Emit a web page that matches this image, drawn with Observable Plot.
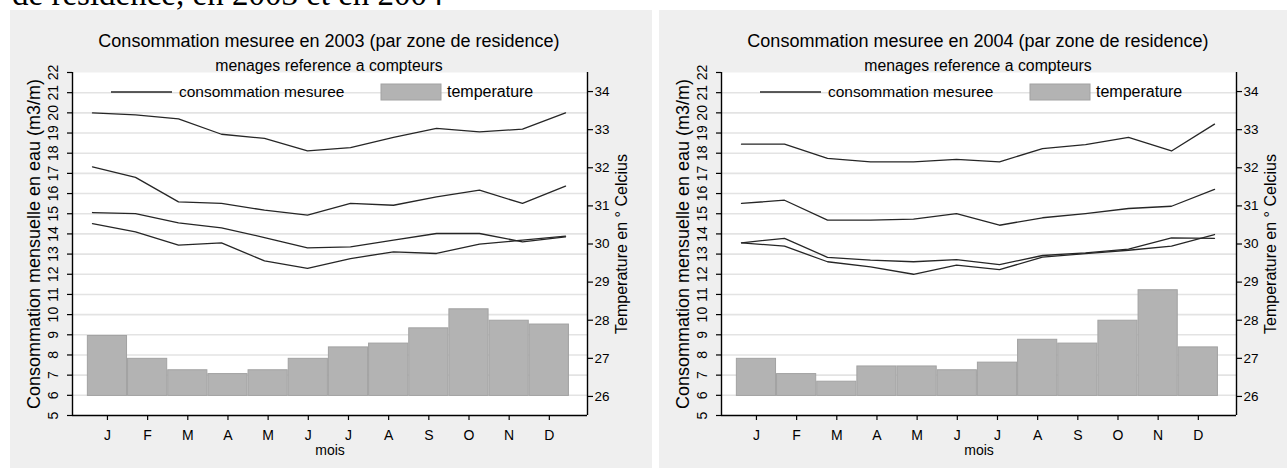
<!DOCTYPE html>
<html>
<head>
<meta charset="utf-8">
<script src="https://cdn.jsdelivr.net/npm/d3@7"></script>
<script src="https://cdn.jsdelivr.net/npm/@observablehq/plot@0.6"></script>
<style>
  html, body { margin: 0; padding: 0; }
  body { width: 1287px; height: 468px; overflow: hidden; background: #fff; position: relative;
         font-family: "Liberation Sans", Arial, sans-serif; }
  #doc { position: absolute; left: 12px; top: -22px; font-family: "Liberation Serif", "Times New Roman", serif;
         font-size: 33px; line-height: 33px; white-space: nowrap; color: #000; }
  .panel { position: absolute; top: 10px; width: 642px; height: 458px; background: #efefef; overflow: hidden; }
  .panel > svg { position: absolute; left: 0; top: 0; }
</style>
</head>
<body>
<div id="doc">de residence, en 2003 et en 2004</div>
<div class="panel" id="p2003" style="left:10px"></div>
<div class="panel" id="p2004" style="left:659px"></div>
<script>
// ---- data ----
const months = ["J","F","M","A","M","J","J","A","S","O","N","D"];
const monthNum = [1,2,3,4,5,6,7,8,9,10,11,12];
const consTicks = [5,6,7,8,9,10,11,12,13,14,15,16,17,18,19,20,21,22];
const gridTicks = [6,7,8,9,10,11,12,13,14,15,16,17,18,19,20,21];
const tempTicks = [26,27,28,29,30,31,32,33,34];

const temp2003 = [27.6,27.0,26.7,26.6,26.7,27.0,27.3,27.4,27.8,28.3,28.0,27.9];
const temp2004 = [27.0,26.6,26.4,26.8,26.8,26.7,26.9,27.5,27.4,28.0,28.8,27.3];

const conso2003a = [20.0,19.9,19.7,18.94,18.73,18.12,18.28,18.78,19.23,19.06,19.19,20.0];
const conso2003b = [17.32,16.80,15.59,15.51,15.18,14.93,15.51,15.42,15.84,16.17,15.51,16.37];
const conso2003c = [15.06,15.01,14.55,14.30,13.82,13.31,13.36,13.69,14.02,14.02,13.61,13.85];
const conso2003d = [14.51,14.10,13.44,13.56,12.66,12.29,12.78,13.11,13.03,13.49,13.69,13.89];

const conso2004a = [18.45,18.45,17.74,17.57,17.57,17.69,17.57,18.23,18.43,18.78,18.11,19.44];
const conso2004b = [15.51,15.67,14.68,14.68,14.73,15.01,14.43,14.80,15.01,15.26,15.37,16.21];
const conso2004c = [13.56,13.78,12.84,12.70,12.62,12.73,12.48,12.93,13.06,13.25,13.80,13.78];
const conso2004d = [13.56,13.39,12.62,12.37,12.00,12.45,12.23,12.85,13.02,13.19,13.39,13.97];

const title2003 = "Consommation mesuree en 2003 (par zone de residence)";
const title2004 = "Consommation mesuree en 2004 (par zone de residence)";
const subtitle = "menages reference a compteurs";
const legendLine = "consommation mesuree";
const legendBar = "temperature";
const yTitle = "Consommation mensuelle en eau (m3/m)";
const y2Title = "Temperature en \u00b0 Celcius";
const xTitle = "mois";

// ---- layout ----
const W = 642, H = 458;
const mTop = 62, mBottom = 53, mLeft = 62, mRight = 65;
const lineMarginLeft = 82, lineMarginRight = 87;
const xDomain = [0.13, 12.95];
const yDomain = [5, 22];
const tDomain = [25.5, 34.5];
const font = "'Liberation Sans', Arial, sans-serif";
const narrow = "'Liberation Sans Narrow', 'Liberation Sans', Arial, sans-serif";
const baseStyle = {background: "transparent", fontFamily: font, color: "#000", overflow: "visible"};

function basePlot() {
  return Plot.plot({
    width: W, height: H, marginTop: mTop, marginBottom: mBottom, marginLeft: mLeft, marginRight: mRight,
    style: baseStyle,
    x: {domain: xDomain},
    y: {domain: yDomain},
    marks: [
      Plot.frame({fill: "#fff", stroke: null}),
      Plot.gridY(gridTicks, {stroke: "#e3e3e3", strokeOpacity: 1, strokeWidth: 1.6}),
      Plot.axisX(monthNum, {anchor: "bottom", tickSize: 5, tickPadding: 10, tickFormat: i => months[i - 1],
        fontSize: 14, fontFamily: narrow, label: null, strokeWidth: 1.2}),
      Plot.axisY(consTicks, {anchor: "left", tickSize: 5, tickFormat: () => "", label: null, strokeWidth: 1.2}),
      Plot.text(consTicks, {y: d => d, text: d => String(d), frameAnchor: "left", dx: -15, rotate: -90,
        textAnchor: "middle", lineAnchor: "bottom", fontSize: 14, fontFamily: narrow}),
      Plot.text([xTitle], {text: d => d, frameAnchor: "bottom", dy: 39, lineAnchor: "bottom",
        fontSize: 14, fontFamily: narrow}),
      Plot.text([yTitle], {text: d => d, frameAnchor: "left", dx: -33, rotate: -90,
        textAnchor: "middle", lineAnchor: "bottom", fontSize: 18}),
      Plot.ruleX([xDomain[0]], {stroke: "#000", strokeWidth: 1.4}),
      Plot.ruleY([yDomain[0]], {stroke: "#000", strokeWidth: 1.4})
    ]
  });
}

function barPlot(temps) {
  return Plot.plot({
    width: W, height: H, marginTop: mTop, marginBottom: mBottom, marginLeft: mLeft, marginRight: mRight,
    style: baseStyle,
    x: {domain: xDomain, axis: null},
    y: {domain: tDomain},
    marks: [
      Plot.rect(temps, {x1: (d, i) => monthNum[i] - 0.5, x2: (d, i) => monthNum[i] + 0.5,
        y1: 26, y2: d => d, fill: "#b3b3b3", stroke: "#a2a2a2", strokeWidth: 1, inset: 0.5}),
      Plot.axisY(tempTicks, {anchor: "right", tickSize: 5, tickPadding: 2, fontSize: 13.5, label: null, strokeWidth: 1.2}),
      Plot.ruleX([xDomain[1]], {stroke: "#000", strokeWidth: 1.4}),
      Plot.text([y2Title], {text: d => d, frameAnchor: "right", dx: 39.5, rotate: -90,
        textAnchor: "middle", lineAnchor: "bottom", fontSize: 16})
    ]
  });
}

function linePlot(series) {
  return Plot.plot({
    width: W, height: H, marginTop: mTop, marginBottom: mBottom, marginLeft: lineMarginLeft, marginRight: lineMarginRight,
    style: baseStyle,
    x: {domain: [1, 12], axis: null},
    y: {domain: yDomain, axis: null},
    marks: series.map(s => Plot.lineY(s, {x: (d, i) => monthNum[i], y: d => d,
      stroke: "#262626", strokeWidth: 1.3}))
  });
}

function annotations(title) {
  const svg = d3.create("svg").attr("width", W).attr("height", H)
    .style("font-family", "'Liberation Sans', Arial, sans-serif");
  svg.append("text").attr("x", 319).attr("y", 37).attr("text-anchor", "middle")
    .attr("font-size", 18).text(title);
  svg.append("text").attr("x", 319).attr("y", 61).attr("text-anchor", "middle")
    .attr("font-size", 15.8).text(subtitle);
  // legend
  svg.append("line").attr("x1", 101).attr("x2", 162).attr("y1", 82).attr("y2", 82)
    .attr("stroke", "#262626").attr("stroke-width", 1.3);
  svg.append("text").attr("x", 169).attr("y", 87).attr("font-size", 15.5).text(legendLine);
  svg.append("rect").attr("x", 371).attr("y", 74).attr("width", 60).attr("height", 16)
    .attr("fill", "#b3b3b3").attr("stroke", "#a2a2a2");
  svg.append("text").attr("x", 437).attr("y", 87).attr("font-size", 16).text(legendBar);
  return svg.node();
}

function build(id, title, temps, series) {
  const el = document.getElementById(id);
  el.appendChild(basePlot());
  el.appendChild(barPlot(temps));
  el.appendChild(linePlot(series));
  el.appendChild(annotations(title));
}

build("p2003", title2003, temp2003, [conso2003a, conso2003b, conso2003c, conso2003d]);
build("p2004", title2004, temp2004, [conso2004a, conso2004b, conso2004c, conso2004d]);
</script>
</body>
</html>
